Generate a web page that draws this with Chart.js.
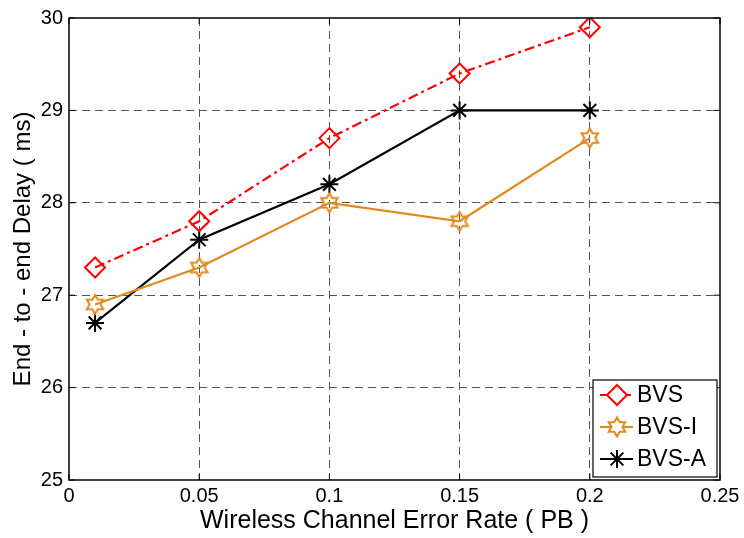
<!DOCTYPE html>
<html>
<head>
<meta charset="utf-8">
<script src="https://cdn.jsdelivr.net/npm/chart.js@4/dist/chart.umd.min.js"></script>
<style>
  html, body { margin: 0; padding: 0; background: #fff; }
  #wrap { width: 744px; height: 538px; }
</style>
</head>
<body>
<div id="wrap"><canvas id="delayChart" width="744" height="538"></canvas></div>
<script>
const errorRates = [0.01, 0.05, 0.1, 0.15, 0.2];
const bvs = [27.3, 27.8, 28.7, 29.4, 29.9];
const bvsI = [26.9, 27.3, 28.0, 27.8, 28.7];
const bvsA = [26.7, 27.6, 28.2, 29.0, 29.0];
const xTicks = [0, 0.05, 0.1, 0.15, 0.2, 0.25];
const yTicks = [25, 26, 27, 28, 29, 30];

const ORANGE = '#e08a1e';
const FONT = '"Liberation Sans", Arial, sans-serif';

// hexagram marker, MATLAB style
function makeHexagram(color) {
  const c = document.createElement('canvas');
  c.width = 24; c.height = 24;
  const g = c.getContext('2d');
  const R = 9.5, r = R / Math.sqrt(3);
  g.beginPath();
  for (let i = 0; i < 12; i++) {
    const rad = i % 2 === 0 ? R : r;
    const ang = -Math.PI / 2 + i * Math.PI / 6;
    const px = 12 + rad * Math.cos(ang), py = 12 + rad * Math.sin(ang);
    if (i === 0) g.moveTo(px, py); else g.lineTo(px, py);
  }
  g.closePath();
  g.strokeStyle = color;
  g.lineWidth = 2;
  g.stroke();
  return c;
}
const hexStar = makeHexagram(ORANGE);

function pts(arr) {
  return arr.map((v, i) => ({ x: errorRates[i], y: v }));
}

function drawMarker(ctx, style, x, y, color) {
  ctx.save();
  ctx.strokeStyle = color;
  ctx.lineWidth = 2;
  ctx.setLineDash([]);
  if (style === 'diamond') {
    ctx.beginPath();
    ctx.moveTo(x, y - 10); ctx.lineTo(x + 10, y); ctx.lineTo(x, y + 10); ctx.lineTo(x - 10, y);
    ctx.closePath();
    ctx.fillStyle = '#fff';
    ctx.fill();
    ctx.stroke();
  } else if (style === 'hex') {
    ctx.fillStyle = '#fff';
    ctx.beginPath();
    ctx.arc(x, y, 5, 0, Math.PI * 2);
    ctx.fill();
    ctx.drawImage(hexStar, x - 12, y - 12);
  } else {
    ctx.beginPath();
    for (let i = 0; i < 4; i++) {
      const a = i * Math.PI / 4;
      ctx.moveTo(x - 9 * Math.cos(a), y - 9 * Math.sin(a));
      ctx.lineTo(x + 9 * Math.cos(a), y + 9 * Math.sin(a));
    }
    ctx.stroke();
  }
  ctx.restore();
}

const legendItems = [
  { label: 'BVS', color: '#ff0000', dash: [10, 4, 3, 4], marker: 'diamond' },
  { label: 'BVS-I', color: ORANGE, dash: [], marker: 'hex' },
  { label: 'BVS-A', color: '#000000', dash: [], marker: 'star' }
];

const framePlugin = {
  id: 'frame',
  afterDraw(chart) {
    const ctx = chart.ctx;
    const a = chart.chartArea;
    const xs = chart.scales.x, ys = chart.scales.y;
    ctx.save();
    ctx.strokeStyle = '#000';
    ctx.lineWidth = 1.5;
    ctx.setLineDash([]);
    ctx.strokeRect(a.left, a.top, a.right - a.left, a.bottom - a.top);

    // inward ticks on all four sides
    ctx.lineWidth = 1;
    ctx.beginPath();
    xTicks.forEach(v => {
      const px = xs.getPixelForValue(v);
      ctx.moveTo(px, a.bottom); ctx.lineTo(px, a.bottom - 6);
      ctx.moveTo(px, a.top); ctx.lineTo(px, a.top + 6);
    });
    yTicks.forEach(v => {
      const py = ys.getPixelForValue(v);
      ctx.moveTo(a.left, py); ctx.lineTo(a.left + 6, py);
      ctx.moveTo(a.right, py); ctx.lineTo(a.right - 6, py);
    });
    ctx.stroke();

    // legend box, lower right
    const bx = a.right - 127, by = a.bottom - 100, bw = 124, bh = 97;
    ctx.fillStyle = '#fff';
    ctx.fillRect(bx, by, bw, bh);
    ctx.lineWidth = 1.2;
    ctx.strokeRect(bx, by, bw, bh);
    ctx.font = '23px ' + FONT;
    ctx.textBaseline = 'middle';
    legendItems.forEach((it, i) => {
      const y = by + 15 + i * 32;
      ctx.strokeStyle = it.color;
      ctx.lineWidth = 2;
      ctx.setLineDash(it.dash);
      ctx.beginPath();
      ctx.moveTo(bx + 7, y);
      ctx.lineTo(bx + 40, y);
      ctx.stroke();
      drawMarker(ctx, it.marker, bx + 24, y, it.color);
      ctx.fillStyle = '#000';
      ctx.fillText(it.label, bx + 44, y + 1);
    });
    ctx.restore();
  }
};

const ctx = document.getElementById('delayChart').getContext('2d');
new Chart(ctx, {
  type: 'line',
  data: {
    datasets: [
      {
        label: 'BVS',
        data: pts(bvs),
        borderColor: '#ff0000',
        borderWidth: 2.2,
        borderDash: [10, 4, 3, 4],
        pointStyle: 'rectRot',
        pointRadius: 10,
        pointBorderWidth: 2,
        pointBorderColor: '#ff0000',
        pointBackgroundColor: 'rgba(255,255,255,0)',
        tension: 0
      },
      {
        label: 'BVS-I',
        data: pts(bvsI),
        borderColor: ORANGE,
        borderWidth: 2.2,
        pointStyle: hexStar,
        tension: 0
      },
      {
        label: 'BVS-A',
        data: pts(bvsA),
        borderColor: '#000',
        borderWidth: 2.2,
        pointStyle: 'star',
        pointRadius: 9,
        pointBorderWidth: 2,
        pointBorderColor: '#000',
        tension: 0
      }
    ]
  },
  options: {
    responsive: false,
    animation: false,
    layout: { padding: { top: 16, right: 24, left: 0, bottom: 0 } },
    plugins: { legend: { display: false }, tooltip: { enabled: false } },
    scales: {
      x: {
        type: 'linear',
        min: 0,
        max: 0.25,
        afterBuildTicks: (s) => { s.ticks = xTicks.map(v => ({ value: v })); },
        afterFit: (s) => { s.height = 58; },
        grid: {
          color: (c) => (c.tick && (c.tick.value === 0 || c.tick.value === 0.25)) ? 'rgba(0,0,0,0)' : '#555',
          lineWidth: 1,
          drawTicks: false
        },
        border: { display: false, dash: [8, 5] },
        ticks: {
          color: '#000',
          padding: 4,
          maxRotation: 0,
          font: { family: FONT, size: 20 },
          callback: (v) => String(Math.round(v * 100) / 100)
        },
        title: {
          display: true,
          text: 'Wireless Channel Error Rate ( PB )',
          color: '#000',
          padding: { top: 0, bottom: 2 },
          font: { family: FONT, size: 25 }
        }
      },
      y: {
        min: 25,
        max: 30,
        afterBuildTicks: (s) => { s.ticks = yTicks.map(v => ({ value: v })); },
        afterFit: (s) => { s.width = 69; },
        grid: {
          color: (c) => (c.tick && (c.tick.value === 25 || c.tick.value === 30)) ? 'rgba(0,0,0,0)' : '#555',
          lineWidth: 1,
          drawTicks: false
        },
        border: { display: false, dash: [8, 5] },
        ticks: {
          color: '#000',
          padding: 6,
          font: { family: FONT, size: 20 }
        },
        title: {
          display: true,
          text: 'End - to - end Delay ( ms)',
          color: '#000',
          padding: { top: 9, bottom: 0 },
          font: { family: FONT, size: 24 }
        }
      }
    }
  },
  plugins: [framePlugin]
});
</script>
</body>
</html>
